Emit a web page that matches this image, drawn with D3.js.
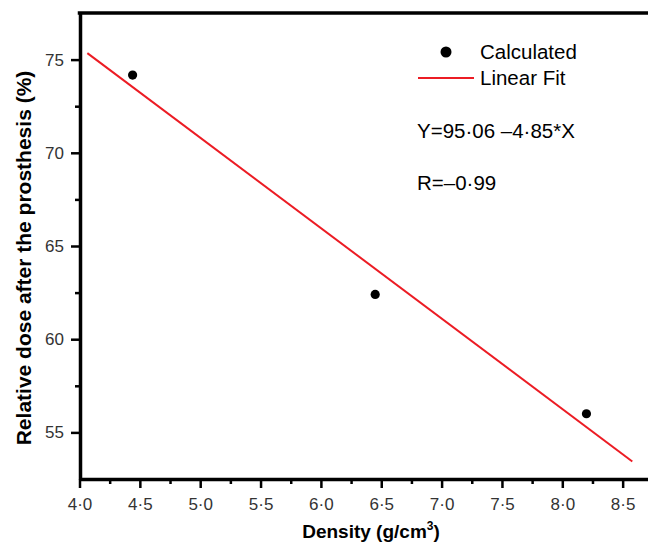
<!DOCTYPE html>
<html>
<head>
<meta charset="utf-8">
<script src="https://cdn.jsdelivr.net/npm/d3@7"></script>
<style>
  body { margin: 0; background: #fff; }
  text { font-family: "Liberation Sans", Arial, sans-serif; }
</style>
</head>
<body>
<div id="chart"></div>
<script>
// data
var densityPts = [4.44, 6.45, 8.20];
var dosePts = [74.17, 62.40, 56.0];
// end points of the fitted line
var fitX = [4.065, 8.58];
var fitY = [75.35, 53.44];
var xTicks = [4.0, 4.5, 5.0, 5.5, 6.0, 6.5, 7.0, 7.5, 8.0, 8.5];
var xMinor = [4.25, 4.75, 5.25, 5.75, 6.25, 6.75, 7.25, 7.75, 8.25];
var yTicks = [55, 60, 65, 70, 75];
var yMinor = [57.5, 62.5, 67.5, 72.5];

var svgWidth = 648;
var svgHeight = 549;

var svg = d3.select("#chart")
  .append("svg")
  .attr("width", svgWidth)
  .attr("height", svgHeight);

var xScale = d3.scaleLinear()
  .domain([4.0, 8.71])
  .range([79.5, 648]);

var yScale = d3.scaleLinear()
  .domain([52.5, 77.5])
  .range([479, 13]);

var fmt = d => d3.format(".1f")(d).replace(".", "\u00b7");

// minor ticks first, major on top
svg.append("g")
  .attr("transform", "translate(0,479)")
  .call(d3.axisBottom(xScale).tickValues(xMinor).tickSize(5).tickSizeOuter(0).tickFormat(""))
  .call(g => g.select(".domain").remove())
  .call(g => g.selectAll("line").attr("stroke", "#000").attr("stroke-width", 2.5));

var xAxis = svg.append("g")
  .attr("transform", "translate(0,479)")
  .call(d3.axisBottom(xScale).tickValues(xTicks).tickSize(9).tickSizeOuter(0).tickFormat(fmt));
xAxis.select(".domain").attr("stroke", "#000").attr("stroke-width", 3.5);
xAxis.selectAll("line").attr("stroke", "#000").attr("stroke-width", 2.5);
xAxis.selectAll("text")
  .attr("y", 19)
  .attr("dy", "0.71em")
  .attr("font-size", 17)
  .attr("fill", "#333");

svg.append("g")
  .attr("transform", "translate(80,0)")
  .call(d3.axisLeft(yScale).tickValues(yMinor).tickSize(5).tickSizeOuter(0).tickFormat(""))
  .call(g => g.select(".domain").remove())
  .call(g => g.selectAll("line").attr("stroke", "#000").attr("stroke-width", 2.5));

var yAxis = svg.append("g")
  .attr("transform", "translate(80,0)")
  .call(d3.axisLeft(yScale).tickValues(yTicks).tickSize(9).tickSizeOuter(0));
yAxis.select(".domain").attr("stroke", "#000").attr("stroke-width", 3.5);
yAxis.selectAll("line").attr("stroke", "#000").attr("stroke-width", 2.5);
yAxis.selectAll("text")
  .attr("x", -16)
  .attr("font-size", 17)
  .attr("fill", "#333");

// top frame line
svg.append("line")
  .attr("x1", xScale(4.0))
  .attr("x2", svgWidth)
  .attr("y1", yScale(77.5))
  .attr("y2", yScale(77.5))
  .attr("stroke", "#000")
  .attr("stroke-width", 3.5)
  .attr("stroke-linecap", "square");

// fitted line
var fitData = fitX.map((x, i) => [x, fitY[i]]);
svg.append("path")
  .datum(fitData)
  .attr("fill", "none")
  .attr("stroke", "#ec1c24")
  .attr("stroke-width", 2)
  .attr("d", d3.line().x(d => xScale(d[0])).y(d => yScale(d[1])));

// points
svg.selectAll("circle.pt")
  .data(densityPts)
  .enter()
  .append("circle")
  .attr("class", "pt")
  .attr("cx", d => xScale(d))
  .attr("cy", (d, i) => yScale(dosePts[i]))
  .attr("r", 4.6)
  .attr("fill", "#000");

// legend
svg.append("circle")
  .attr("cx", 446)
  .attr("cy", 52)
  .attr("r", 5.5)
  .attr("fill", "#000");
svg.append("text")
  .attr("x", 480)
  .attr("y", 59)
  .attr("font-size", 20.5)
  .text("Calculated");
svg.append("line")
  .attr("x1", 418)
  .attr("x2", 474)
  .attr("y1", 78)
  .attr("y2", 78)
  .attr("stroke", "#ec1c24")
  .attr("stroke-width", 2);
svg.append("text")
  .attr("x", 480)
  .attr("y", 85)
  .attr("font-size", 20.5)
  .text("Linear Fit");
svg.append("text")
  .attr("x", 417)
  .attr("y", 138)
  .attr("font-size", 20.5)
  .text("Y=95\u00b706 \u20134\u00b785*X");
svg.append("text")
  .attr("x", 417)
  .attr("y", 190)
  .attr("font-size", 20.5)
  .text("R=\u20130\u00b799");

// axis titles
var xTitle = svg.append("text")
  .attr("x", 371)
  .attr("y", 538)
  .attr("text-anchor", "middle")
  .attr("font-size", 19)
  .attr("font-weight", "bold");
xTitle.append("tspan").text("Density (g/cm");
xTitle.append("tspan").attr("dy", -8).attr("font-size", 12).text("3");
xTitle.append("tspan").attr("dy", 8).text(")");

svg.append("text")
  .attr("transform", "translate(31,258) rotate(-90)")
  .attr("text-anchor", "middle")
  .attr("font-size", 21)
  .attr("font-weight", "bold")
  .text("Relative dose after the prosthesis (%)");
</script>
</body>
</html>
